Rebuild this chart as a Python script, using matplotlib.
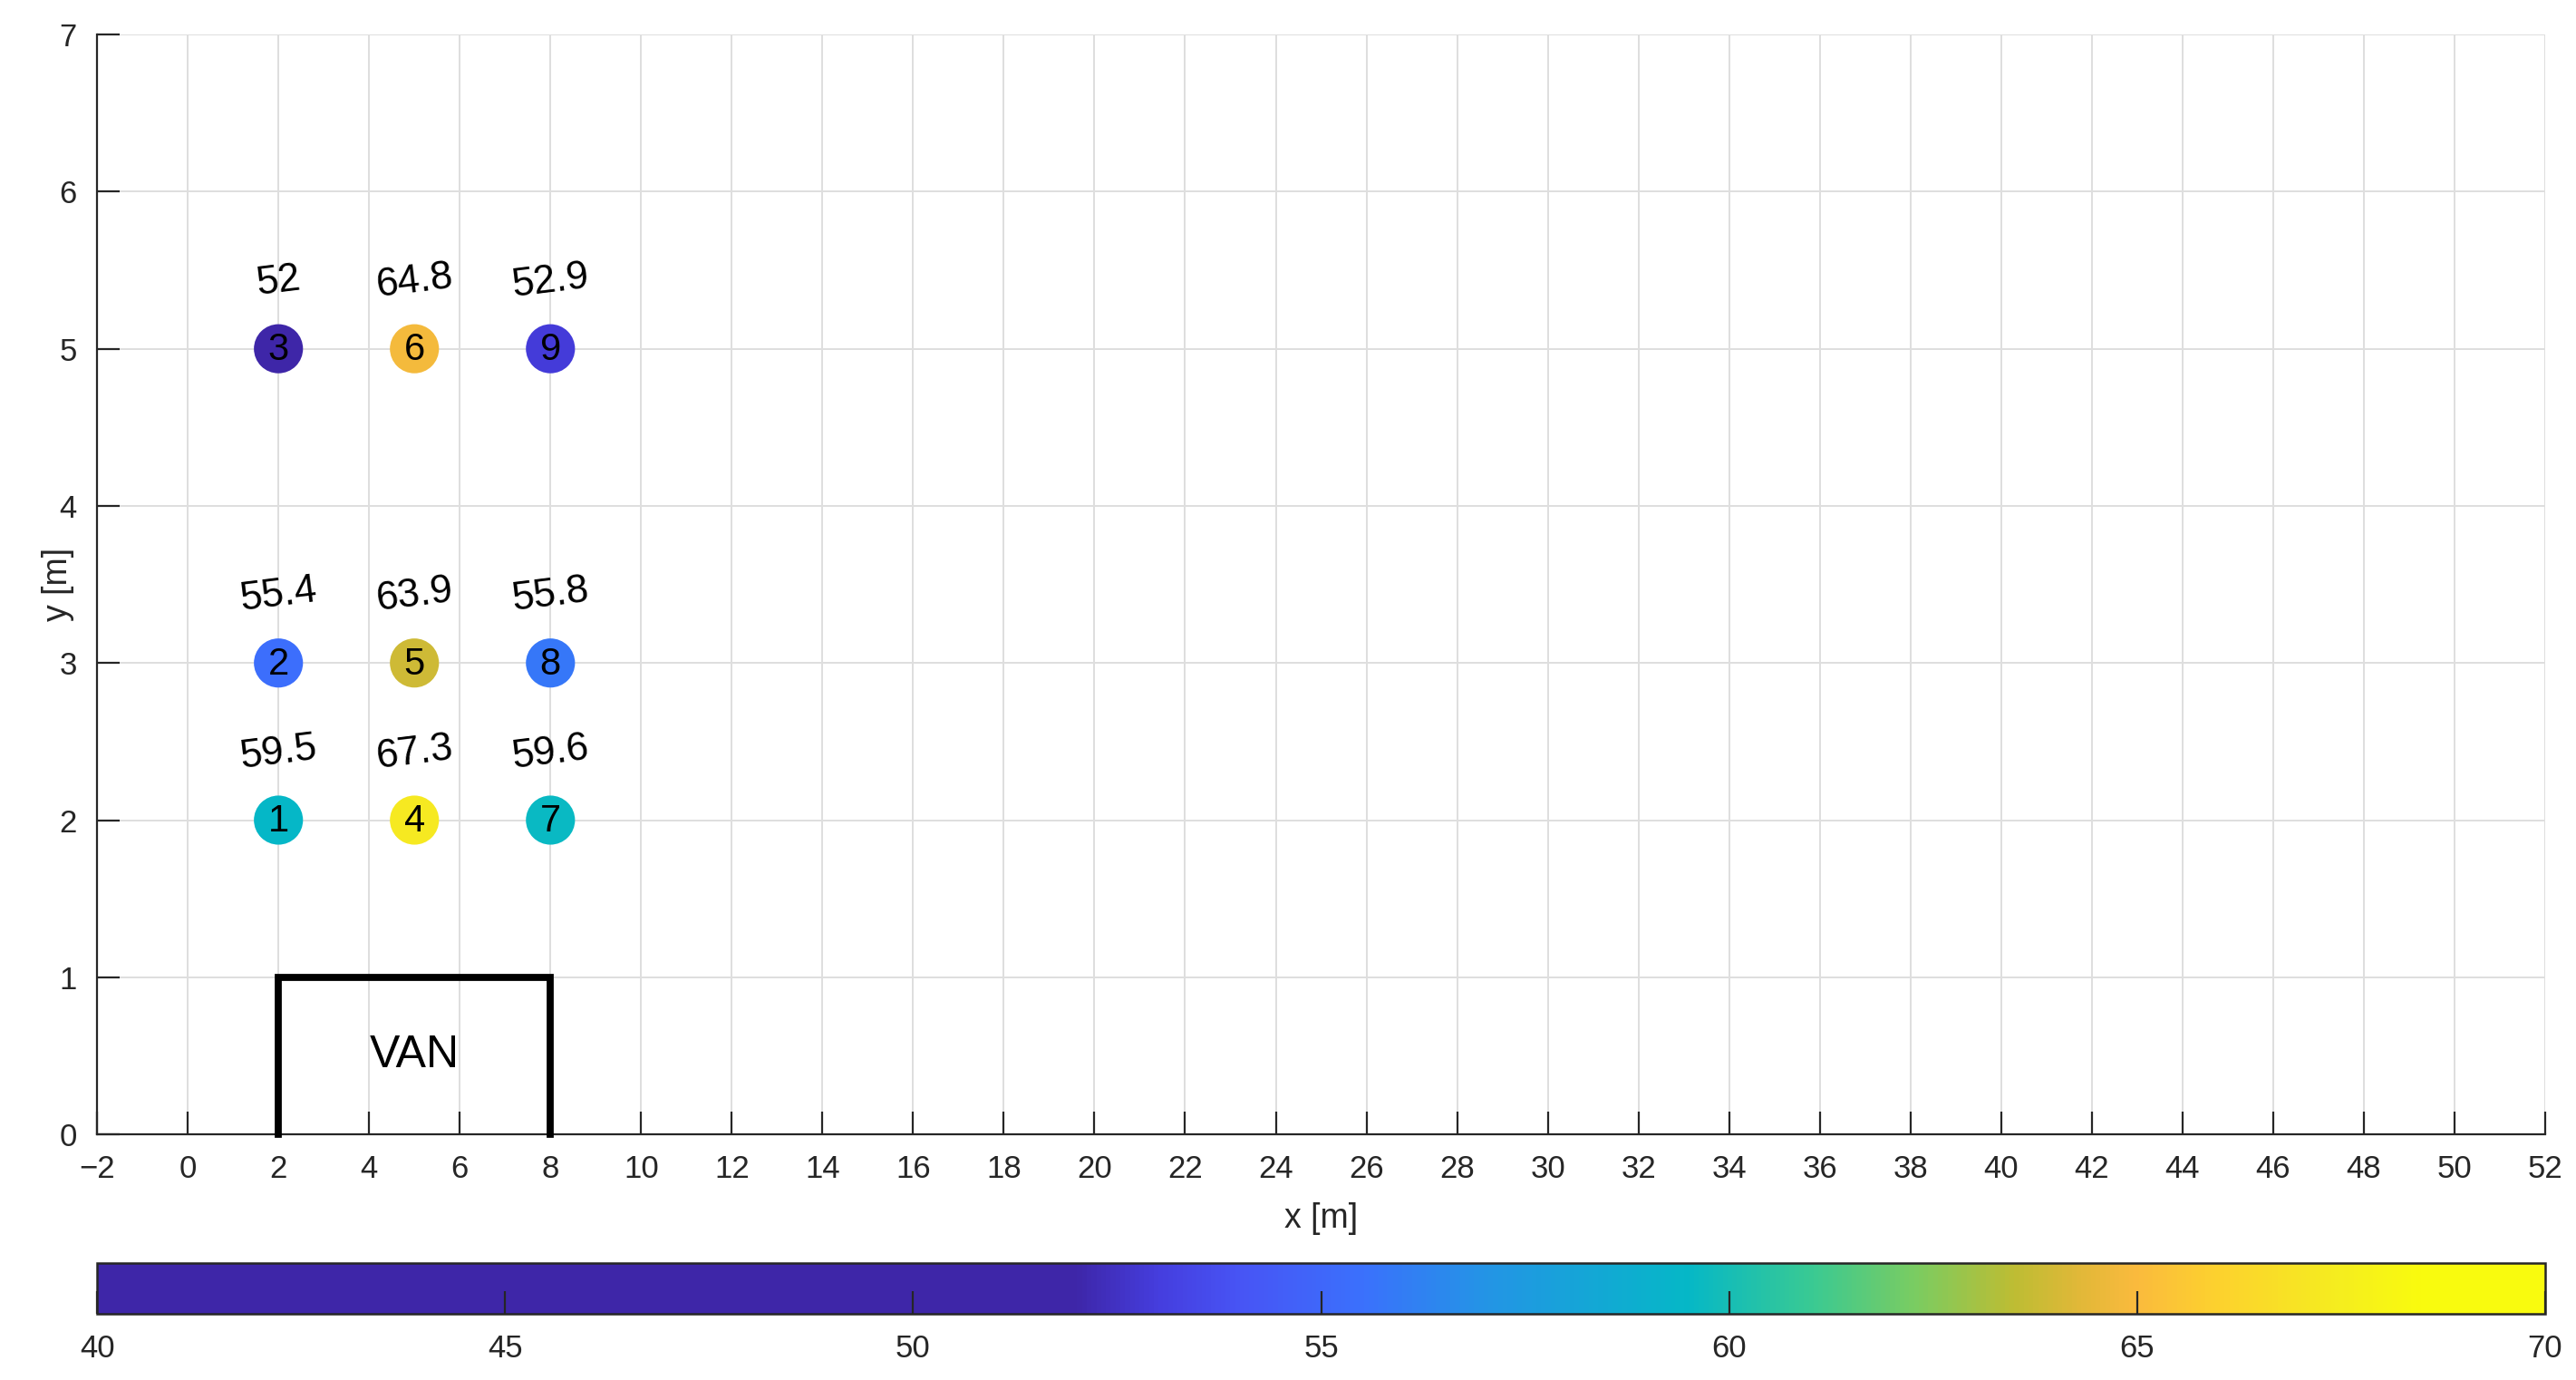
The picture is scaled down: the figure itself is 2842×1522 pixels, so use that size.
import matplotlib
matplotlib.use("Agg")
import matplotlib.pyplot as plt
import numpy as np
from matplotlib.colors import LinearSegmentedColormap

# node positions and measured values
pos_x = [2, 2, 2, 5, 5, 5, 8, 8, 8]
pos_y = [2, 3, 5, 2, 3, 5, 2, 3, 5]
node_ids = [1, 2, 3, 4, 5, 6, 7, 8, 9]
values = [59.5, 55.4, 52, 67.3, 63.9, 64.8, 59.6, 55.8, 52.9]

# van outline
van_x = [2, 2, 8, 8]
van_y = [0, 1, 1, 0]

cb_ticks = [40, 45, 50, 55, 60, 65, 70]
vmin, vmax = 40, 70

# parula-like map, flat dark below ~52
nodes = [
    (40, (0.2422, 0.1504, 0.6603)),
    (52, (0.2422, 0.1504, 0.6603)),
    (53, (0.27, 0.24, 0.87)),
    (54, (0.28, 0.33, 0.96)),
    (55.5, (0.23, 0.44, 0.99)),
    (57, (0.14, 0.58, 0.90)),
    (59.5, (0.02, 0.72, 0.78)),
    (61, (0.22, 0.79, 0.58)),
    (62.3, (0.48, 0.80, 0.38)),
    (63.5, (0.74, 0.74, 0.20)),
    (64.3, (0.88, 0.72, 0.22)),
    (65, (0.98, 0.73, 0.24)),
    (66, (0.99, 0.82, 0.18)),
    (67.5, (0.96, 0.93, 0.12)),
    (68.5, (0.976, 0.983, 0.054)),
    (70, (0.976, 0.983, 0.054)),
]
cmap = LinearSegmentedColormap.from_list(
    "parula_cut", [((v - vmin) / (vmax - vmin), c) for v, c in nodes], N=512)

plt.rcParams['font.family'] = ['Liberation Sans', 'DejaVu Sans']
dark = (0.15, 0.15, 0.15)

fig = plt.figure(figsize=(14.21, 7.61), dpi=200)
ax = fig.add_axes([0.0377, 0.178, 0.9503, 0.797])

ax.grid(True, color=(0.87, 0.87, 0.87), linewidth=0.7)
ax.set_axisbelow(True)

sc = ax.scatter(pos_x, pos_y, c=values, cmap=cmap, vmin=vmin, vmax=vmax,
                s=380, edgecolors='none', zorder=3)
for x, y, n, v in zip(pos_x, pos_y, node_ids, values):
    ax.text(x, y - 0.01, str(n), ha='center', va='center', fontsize=15, color='black', zorder=4)
    ax.text(x, y + 0.43, f"{v:g}", ha='center', va='center', fontsize=15.8,
            color='black', rotation=7, zorder=4)

ax.plot(van_x, van_y, color='black', linewidth=2.8, solid_joinstyle='miter', zorder=3, clip_on=False)
ax.text(5, 0.5, "VAN", ha='center', va='center', fontsize=18, color='black')

ax.set_xlim(-2, 52)
ax.set_ylim(0, 7)
ax.set_xticks(np.arange(-2, 53, 2))
ax.set_yticks(np.arange(0, 8, 1))
ax.tick_params(direction='in', length=9, width=0.8, colors=dark, labelsize=12.5, pad=8)
for s in ['top', 'right']:
    ax.spines[s].set_visible(False)
for s in ['left', 'bottom']:
    ax.spines[s].set_color(dark)
    ax.spines[s].set_linewidth(0.8)
ax.set_xlabel("x [m]", fontsize=13.5, color=dark, labelpad=7)
ax.set_ylabel("y [m]", fontsize=13.5, color=dark, labelpad=-6)

cax = fig.add_axes([0.0377, 0.0480, 0.9503, 0.037])
cb = fig.colorbar(sc, cax=cax, orientation='horizontal')
cb.set_ticks(cb_ticks)
cb.ax.tick_params(direction='in', length=9, width=0.8, colors=dark, labelsize=12.5, pad=8)
cb.outline.set_edgecolor(dark)
cb.outline.set_linewidth(0.9)

fig.savefig("out.png", dpi=200)
